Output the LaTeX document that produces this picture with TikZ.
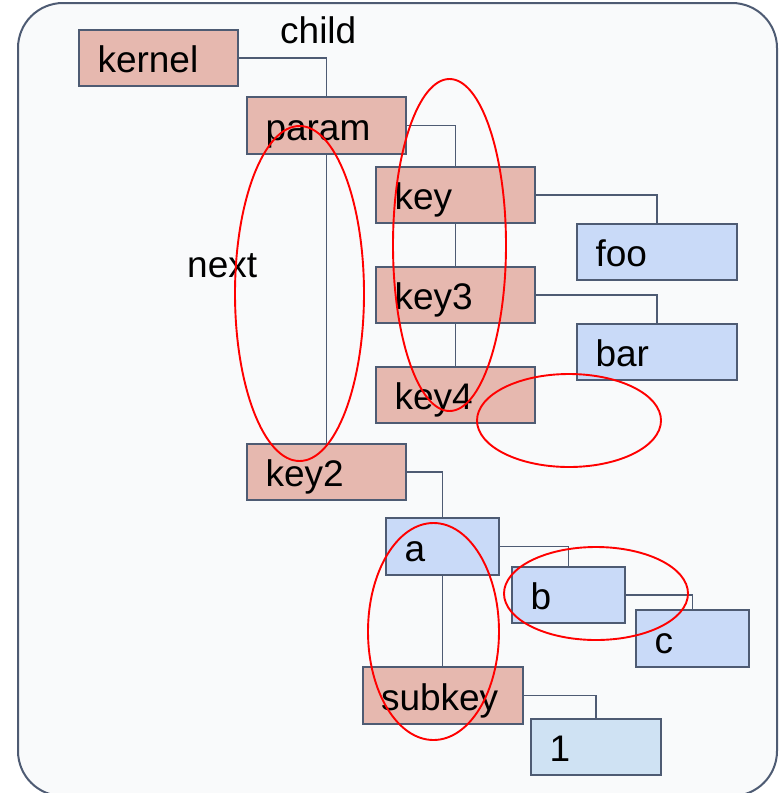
\documentclass[tikz,border=0pt]{standalone}
\usepackage{fontspec}
\setmainfont{Liberation Sans}
\definecolor{edge}{HTML}{4E5B73}
\definecolor{pinkfill}{HTML}{E6B8AF}
\definecolor{bluefill}{HTML}{C9DAF8}
\definecolor{lightblue}{HTML}{CFE2F3}
\definecolor{bgfill}{HTML}{F9FAFB}
\definecolor{ringred}{HTML}{FF0000}
\begin{document}
\begin{tikzpicture}[x=1pt,y=-1pt,
  box/.style={draw=edge, line width=2pt, rectangle, inner xsep=18.5pt, inner ysep=0pt,
    minimum height=56pt, text height=31.6pt, text depth=1.7pt, align=left,
    font=\fontsize{37}{44}\selectfont},
  pinkbox/.style={box, fill=pinkfill},
  bluebox/.style={box, fill=bluefill},
  lightbox/.style={box, fill=lightblue},
  conn/.style={draw=edge, line width=1.9pt},
  ring/.style={draw=ringred, line width=1.9pt},
  lbl/.style={inner sep=0pt, anchor=base west, font=\fontsize{37}{44}\selectfont}]
\useasboundingbox (0,0) rectangle (779,793);
\draw[draw=edge, line width=2pt, fill=bgfill, rounded corners=45pt] (18,3) rectangle (777,796);

\node[pinkbox, text width=122pt] (kernel) at (158.5,58) {kernel};
\node[pinkbox, text width=122pt, minimum height=57pt] (param) at (326.5,125.5) {param};
\node[pinkbox, text width=122pt] (key) at (455.5,195) {key};
\node[bluebox, text width=123pt] (foo) at (657,252) {foo};
\node[pinkbox, text width=122pt] (key3) at (455.5,295) {key3};
\node[bluebox, text width=123pt] (bar) at (657,352) {bar};
\node[pinkbox, text width=122pt] (key4) at (455.5,395) {key4};
\node[pinkbox, text width=122pt] (key2) at (326.5,472) {key2};
\node[bluebox, text width=76pt, minimum height=57pt] (a) at (442.5,546.5) {a};
\node[bluebox, text width=76pt] (b) at (568.5,595) {b};
\node[bluebox, text width=76pt, minimum height=57pt] (c) at (692.5,638.5) {c};
\node[pinkbox, text width=123pt, minimum height=57pt] (subkey) at (442.5,695.5) {subkey};
\node[lightbox, text width=93pt] (one) at (596,747) {1};

\node[lbl] (child) at (280,43) {child};
\node[lbl] (next) at (187,277) {next};

\draw[conn] (kernel.east) -| (param.north);
\draw[conn] (param.east) -| (key.north);
\draw[conn] (param.south) -- (key2.north);
\draw[conn] (key.east) -| (foo.north);
\draw[conn] (key.south) -- (key3.north);
\draw[conn] (key3.east) -| (bar.north);
\draw[conn] (key3.south) -- (key4.north);
\draw[conn] (key2.east) -| (a.north);
\draw[conn] (a.east) -| (b.north);
\draw[conn] (a.south) -- (subkey.north);
\draw[conn] (b.east) -| (c.north);
\draw[conn] (subkey.east) -| (one.north);

\draw[ring] (299.5,293.5) ellipse [x radius=64.5pt, y radius=167.5pt];
\draw[ring] (449.5,245) ellipse [x radius=56.5pt, y radius=166pt];
\draw[ring] (569,420.5) ellipse [x radius=92pt, y radius=46.5pt];
\draw[ring] (433.5,631.5) ellipse [x radius=65.5pt, y radius=108.5pt];
\draw[ring] (596,593.5) ellipse [x radius=92pt, y radius=46.5pt];
\end{tikzpicture}
\end{document}
